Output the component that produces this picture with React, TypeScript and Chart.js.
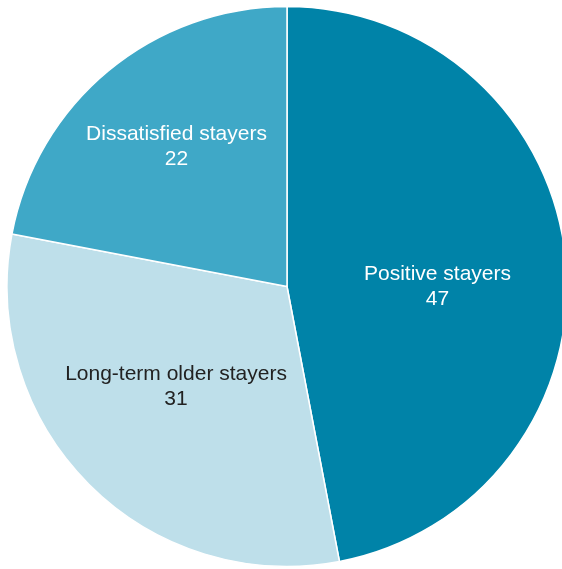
import React, { useEffect, useRef } from "react";
import { Chart, registerables } from "chart.js";

Chart.register(...registerables);

const categories = ["Positive stayers", "Long-term older stayers", "Dissatisfied stayers"];
const values = [47, 31, 22];
const sliceColors = ["#0083A8", "#BEDFEA", "#3FA8C7"];
const labelColors = ["#FFFFFF", "#222222", "#FFFFFF"];
// label placement: fraction of radius, angular shift in degrees
const labelRadius = [0.5375, 0.53, 0.641];
const labelShift = [4.8, 3.4, 1.6];

const labelPlugin = {
  id: "sliceLabels",
  afterDatasetsDraw(chart: any) {
    const ctx = chart.ctx;
    const meta = chart.getDatasetMeta(0);
    ctx.save();
    ctx.font = "21px 'Liberation Sans', Arial, sans-serif";
    ctx.textAlign = "center";
    ctx.textBaseline = "alphabetic";
    meta.data.forEach((arc: any, i: number) => {
      const p = arc.getProps(["x", "y", "startAngle", "endAngle", "outerRadius"], true);
      const mid = (p.startAngle + p.endAngle) / 2 + (labelShift[i] * Math.PI) / 180;
      const r = p.outerRadius * labelRadius[i];
      const ax = p.x + Math.cos(mid) * r;
      const ay = p.y + Math.sin(mid) * r;
      ctx.fillStyle = labelColors[i];
      ctx.fillText(categories[i], ax, ay - 5);
      ctx.fillText(String(values[i]), ax, ay + 20);
    });
    ctx.restore();
  },
};

export default function App() {
  const ref = useRef<HTMLCanvasElement | null>(null);
  useEffect(() => {
    if (!ref.current) return;
    const chart = new Chart(ref.current, {
      type: "pie",
      data: {
        labels: categories,
        datasets: [
          {
            data: values,
            backgroundColor: sliceColors,
            borderColor: "#FFFFFF",
            borderWidth: 1.5,
          },
        ],
      },
      options: {
        responsive: false,
        animation: false,
        radius: 280,
        layout: { padding: 0 },
        plugins: {
          legend: { display: false },
          tooltip: { enabled: false },
        },
      } as any,
      plugins: [labelPlugin],
    });
    return () => chart.destroy();
  }, []);
  return (
    <div
      style={{
        position: "fixed",
        left: 0,
        top: 0,
        width: 562,
        height: 569,
        overflow: "hidden",
        background: "#FFFFFF",
      }}
    >
      <canvas ref={ref} width={574} height={573} style={{ width: 574, height: 573, display: "block" }} />
    </div>
  );
}
